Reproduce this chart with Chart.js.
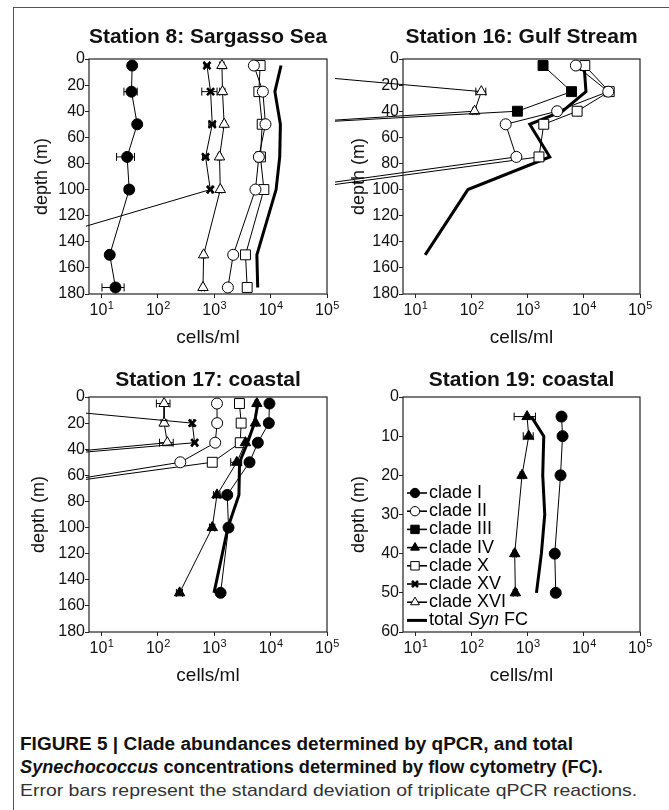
<!DOCTYPE html>
<html>
<head>
<meta charset="utf-8">
<script src="https://cdn.jsdelivr.net/npm/chart.js@4.4.1/dist/chart.umd.min.js"></script>
<style>
  html, body { margin: 0; padding: 0; background: #fff; }
  body { width: 669px; height: 810px; position: relative; overflow: hidden; font-family: 'Liberation Sans', Arial, sans-serif; }
  .frame { position: absolute; left: 13px; top: 7px; width: 700px; height: 850px; border-top: 1.5px solid #555; border-left: 1.5px solid #555; }
  canvas { position: absolute; }
  #caption { position: absolute; left: 20px; top: 733px; color: #111; white-space: nowrap; }
  #caption .ln { display: block; height: 23px; line-height: 23px; transform-origin: 0 50%; }
  #caption .ln span { display: inline-block; }
  #caption .b { font-weight: bold; font-size: 18px; font-family: 'Liberation Sans Narrow', 'Arial Narrow', 'Liberation Sans', Arial, sans-serif; }
  #caption .r { font-size: 17px; color: #333; font-family: 'Liberation Sans Narrow', 'Arial Narrow', 'Liberation Sans', Arial, sans-serif; }
</style>
</head>
<body>
<div class="frame"></div>
<canvas id="c8" width="329" height="347" style="left:14px;top:8px"></canvas>
<canvas id="c16" width="322" height="347" style="left:335px;top:8px"></canvas>
<canvas id="c17" width="329" height="344" style="left:14px;top:346px"></canvas>
<canvas id="c19" width="322" height="344" style="left:335px;top:346px"></canvas>
<div id="caption">
  <div class="ln b" data-w="553"><span>FIGURE 5 | Clade abundances determined by qPCR, and total</span></div>
  <div class="ln b" data-w="583"><span><i>Synechococcus</i> concentrations determined by flow cytometry (FC).</span></div>
  <div class="ln r" data-w="617"><span>Error bars represent the standard deviation of triplicate qPCR reactions.</span></div>
</div>
<script>
// ---- data (cells/ml by depth in m) ----
const xTickValues = [10, 100, 1000, 10000, 100000];
const xTickBase = '10';
const xTickExp = ['1', '2', '3', '4', '5'];

// Station 8: Sargasso Sea
const s8Depth = [5, 25, 50, 75, 100, 150, 175];
const s8CladeI = [35, 34, 43, 28.5, 31, 14, 17.7];
const s8CladeIErr = [3, 9, 3, 10, 5, 1.5, 7.5];
const s8CladeII = [5050, 7280, 8100, 6180, 5380, 2170, 1745];
const s8CladeX = [6520, 6180, 7080, 6600, 7590, 3580, 3840];
const s8CladeXV = [743, 861, 922, 701, 851, 0.1, null];
const s8CladeXVErr = [80, 260, 120, 80, 60, 0, 0];
const s8CladeXVI = [1370, 1400, 1500, 1240, 1280, 648, 631];
const s8CladeXVIErr = [120, 150, 100, 80, 80, 40, 40];
const s8FC = [15300, 11900, 14900, 14500, 12500, 5700, 5900];

// Station 16: Gulf Stream
const s16Depth = [5, 25, 40, 50, 75, 100, 150];
const s16CladeII = [7200, 27200, 3340, 405, 628, 0.04, null];
const s16CladeIIErr = [500, 2500, 300, 40, 50, 0, 0];
const s16CladeIII = [1875, 6030, 655, 0.037, null, null, null];
const s16CladeIIIErr = [150, 900, 60, 0, 0, 0, 0];
const s16CladeX = [10400, 28300, 7590, 1930, 1585, 0.08, null];
const s16CladeXErr = [600, 3000, 600, 150, 100, 0, 0];
const s16CladeXVI = [0.001, 149, 113, 0.025, null, null, null];
const s16CladeXVIErr = [0, 30, 8, 0, 0, 0, 0];
const s16FC = [10100, 10900, 4170, 1087, 2470, 86, 14.9];

// Station 17: coastal
const s17Depth = [5, 20, 35, 50, 75, 100, 150];
const s17CladeI = [9530, 9290, 5930, 4220, 1700, 1790, 1295];
const s17CladeIErr = [400, 300, 300, 250, 120, 150, 80];
const s17CladeII = [1117, 1125, 1040, 250, 0.065, null, null];
const s17CladeIV = [5700, 5380, 3580, 2510, 1117, 922, 243];
const s17CladeIVErr = [400, 300, 200, 550, 150, 100, 30];
const s17CladeX = [2800, 3000, 2890, 922, 0.05, null, null];
const s17CladeXErr = [200, 150, 150, 80, 0, 0, 0];
const s17CladeXV = [0.08, 407, 449, 0.04, null, null, null];
const s17CladeXVErr = [0, 20, 40, 0, 0, 0, 0];
const s17CladeXVI = [129, 129, 147, 0.03, null, null, null];
const s17CladeXVIErr = [35, 15, 40, 0, 0, 0, 0];
const s17FC = [5930, 5160, 3890, 2810, 2740, 1745, 990];

// Station 19: coastal
const s19Depth = [5, 10, 20, 40, 50];
const s19CladeI = [4000, 4170, 3840, 3030, 3160];
const s19CladeIErr = [200, 150, 150, 150, 250];
const s19CladeIV = [973, 1042, 791, 586, 602];
const s19CladeIVErr = [400, 210, 60, 40, 50];
const s19FCDepth = [5, 10, 20, 30, 40, 50];
const s19FC = [1160, 1930, 1850, 2010, 1750, 1430];

// ---- styles ----
const FONT = "'Liberation Sans', Arial, sans-serif";
const STYLE = {
  'clade I':   { pointStyle: 'circle',   radius: 5.5, fill: '#000', bw: 1, line: 1 },
  'clade II':  { pointStyle: 'circle',   radius: 5.5, fill: '#fff', bw: 1, line: 1 },
  'clade III': { pointStyle: 'rect',     radius: 7,   fill: '#000', bw: 1, line: 1 },
  'clade IV':  { pointStyle: 'triangle', radius: 6,   fill: '#000', bw: 1, line: 1 },
  'clade X':   { pointStyle: 'rect',     radius: 7,   fill: '#fff', bw: 1, line: 1 },
  'clade XV':  { pointStyle: 'crossRot', radius: 5,   fill: '#000', bw: 2.6, line: 1 },
  'clade XVI': { pointStyle: 'triangle', radius: 6,   fill: '#fff', bw: 1, line: 1 },
  'total FC':  { pointStyle: false,      radius: 0,   fill: '#000', bw: 0, line: 3 }
};

function series(name, depths, values, errs) { return { name, depths, values, errs }; }

function buildDatasets(list, clip) {
  return list.map(s => {
    const st = STYLE[s.name];
    const pts = [];
    s.values.forEach((v, i) => { if (v !== null) pts.push({ x: v, y: s.depths[i] }); });
    return {
      label: s.name, data: pts, errs: s.errs || null, showLine: true,
      borderColor: '#000', borderWidth: st.line, backgroundColor: st.fill,
      pointStyle: st.pointStyle, pointRadius: st.radius, pointBackgroundColor: st.fill,
      pointBorderColor: '#000', pointBorderWidth: st.bw, tension: 0, clip
    };
  });
}

// error bars drawn through the scales
const errorBars = {
  id: 'errorBars',
  beforeDatasetsDraw(chart) {
    const { ctx, scales: { x, y } } = chart;
    ctx.save();
    ctx.strokeStyle = '#000';
    ctx.lineWidth = 1;
    chart.data.datasets.forEach(ds => {
      if (!ds.errs) return;
      ds.data.forEach((p, i) => {
        const e = ds.errs[i];
        if (!e) return;
        const py = y.getPixelForValue(p.y);
        const x1 = x.getPixelForValue(Math.max(p.x - e, 1));
        const x2 = x.getPixelForValue(p.x + e);
        ctx.beginPath();
        ctx.moveTo(x1, py); ctx.lineTo(x2, py);
        ctx.moveTo(x1, py - 4); ctx.lineTo(x1, py + 4);
        ctx.moveTo(x2, py - 4); ctx.lineTo(x2, py + 4);
        ctx.stroke();
      });
    });
    ctx.restore();
  }
};

// box round the plot area, and 10^n tick labels with raised exponents
const plotFrame = {
  id: 'plotFrame',
  afterDraw(chart) {
    const { ctx, chartArea: a, scales: { x } } = chart;
    ctx.save();
    ctx.strokeStyle = '#222';
    ctx.lineWidth = 1.2;
    ctx.strokeRect(a.left, a.top, a.right - a.left, a.bottom - a.top);
    ctx.fillStyle = '#111';
    ctx.textBaseline = 'alphabetic';
    ctx.textAlign = 'left';
    const base = a.bottom + 21;
    xTickValues.forEach((v, i) => {
      const px = x.getPixelForValue(v);
      ctx.font = '16px ' + FONT;
      const wb = ctx.measureText(xTickBase).width;
      ctx.font = '11px ' + FONT;
      const we = ctx.measureText(xTickExp[i]).width;
      const left = px - (wb + we) / 2;
      ctx.font = '16px ' + FONT;
      ctx.fillText(xTickBase, left, base);
      ctx.font = '11px ' + FONT;
      ctx.fillText(xTickExp[i], left + wb + 0.5, base - 6.5);
    });
    ctx.restore();
  }
};

// legend inside the Station 19 plot
const LEGEND_ITEMS = ['clade I', 'clade II', 'clade III', 'clade IV', 'clade X', 'clade XV', 'clade XVI', 'total FC'];
const insideLegend = {
  id: 'insideLegend',
  afterDraw(chart, args, opts) {
    if (!opts.show) return;
    const { ctx, chartArea: a } = chart;
    ctx.save();
    ctx.font = '18px ' + FONT;
    ctx.textBaseline = 'middle';
    LEGEND_ITEMS.forEach((name, i) => {
      const st = STYLE[name];
      const y = a.top + 96 + i * 18.2;
      const x0 = a.left + 4, x1 = a.left + 24, xm = a.left + 12;
      ctx.strokeStyle = '#000';
      ctx.lineWidth = st.line === 3 ? 3 : 1.6;
      ctx.beginPath(); ctx.moveTo(x0, y); ctx.lineTo(x1, y); ctx.stroke();
      if (st.pointStyle) {
        ctx.fillStyle = st.fill;
        ctx.lineWidth = st.bw;
        Chart.helpers.drawPoint(ctx, { pointStyle: st.pointStyle, radius: st.radius * 0.85, rotation: 0, borderWidth: st.bw }, xm, y);
      }
      ctx.fillStyle = '#000';
      let tx = a.left + 26;
      if (name === 'total FC') {
        ctx.fillText('total ', tx, y); tx += ctx.measureText('total ').width;
        ctx.font = 'italic 18px ' + FONT;
        ctx.fillText('Syn', tx, y); tx += ctx.measureText('Syn').width;
        ctx.font = '18px ' + FONT;
        ctx.fillText(' FC', tx, y);
      } else {
        ctx.fillText(name, tx, y);
      }
    });
    ctx.restore();
  }
};

function makeChart(id, p) {
  new Chart(document.getElementById(id), {
    type: 'scatter',
    data: { datasets: buildDatasets(p.series, p.clip) },
    plugins: [errorBars, plotFrame, insideLegend],
    options: {
      responsive: false, animation: false,
      layout: { padding: { left: 0, right: p.padRight, top: 0, bottom: 0 } },
      plugins: {
        legend: { display: false },
        tooltip: { enabled: false },
        title: {
          display: true, text: p.title, fullSize: false, color: '#111',
          font: { family: FONT, size: 21, weight: 'bold' },
          padding: { top: p.titlePad[0], bottom: p.titlePad[1] }
        },
        insideLegend: { show: !!p.legend }
      },
      scales: {
        x: {
          type: 'logarithmic', min: 6, max: 100000,
          afterBuildTicks: s => { s.ticks = xTickValues.map(v => ({ value: v, major: true })); },
          afterFit: s => { s.height = p.xHeight; },
          ticks: { autoSkip: false, maxRotation: 0, padding: 3, font: { family: FONT, size: 16 },
                   callback: () => '' },
          grid: { display: true, drawOnChartArea: false, drawTicks: true, tickLength: 4, color: '#222' },
          border: { display: false },
          title: { display: true, text: 'cells/ml', color: '#111', font: { family: FONT, size: 19 },
                   padding: { top: 0, bottom: p.xTitlePad } }
        },
        y: {
          type: 'linear', reverse: true, min: 0, max: p.yMax,
          afterFit: s => { s.width = p.yWidth; },
          ticks: { stepSize: p.yStep, padding: 0, color: '#111', font: { family: FONT, size: 16 } },
          grid: { display: true, drawOnChartArea: false, drawTicks: true, tickLength: 4, color: '#222' },
          border: { display: false },
          title: { display: true, text: 'depth (m)', color: '#111', font: { family: FONT, size: 18 },
                   padding: { top: p.yTitlePad, bottom: 0 } }
        }
      }
    }
  });
}

const thinClip = { left: 3, right: 0, top: 0, bottom: 0 };

makeChart('c8', {
  title: 'Station 8: Sargasso Sea', yMax: 180, yStep: 20, clip: thinClip,
  padRight: 16, yWidth: 75, xHeight: 61, titlePad: [16.4, 9.4], yTitlePad: 17.2, xTitlePad: 5.6,
  series: [
    series('clade I', s8Depth, s8CladeI, s8CladeIErr),
    series('clade II', s8Depth, s8CladeII),
    series('clade X', s8Depth, s8CladeX),
    series('clade XV', s8Depth, s8CladeXV, s8CladeXVErr),
    series('clade XVI', s8Depth, s8CladeXVI, s8CladeXVIErr),
    series('total FC', s8Depth, s8FC)
  ]
});

makeChart('c16', {
  title: 'Station 16: Gulf Stream', yMax: 180, yStep: 20, clip: false,
  padRight: 17, yWidth: 68, xHeight: 61, titlePad: [16.4, 9.4], yTitlePad: 13.2, xTitlePad: 5.6,
  series: [
    series('clade II', s16Depth, s16CladeII, s16CladeIIErr),
    series('clade III', s16Depth, s16CladeIII, s16CladeIIIErr),
    series('clade X', s16Depth, s16CladeX, s16CladeXErr),
    series('clade XVI', s16Depth, s16CladeXVI, s16CladeXVIErr),
    series('total FC', s16Depth, s16FC)
  ]
});

makeChart('c17', {
  title: 'Station 17: coastal', yMax: 180, yStep: 20, clip: thinClip,
  padRight: 16, yWidth: 75, xHeight: 58, titlePad: [21.4, 4.4], yTitlePad: 14.7, xTitlePad: 2.6,
  series: [
    series('clade I', s17Depth, s17CladeI, s17CladeIErr),
    series('clade II', s17Depth, s17CladeII),
    series('clade IV', s17Depth, s17CladeIV, s17CladeIVErr),
    series('clade X', s17Depth, s17CladeX, s17CladeXErr),
    series('clade XV', s17Depth, s17CladeXV, s17CladeXVErr),
    series('clade XVI', s17Depth, s17CladeXVI, s17CladeXVIErr),
    series('total FC', s17Depth, s17FC)
  ]
});

makeChart('c19', {
  title: 'Station 19: coastal', yMax: 60, yStep: 10, clip: thinClip, legend: true,
  padRight: 17, yWidth: 68, xHeight: 58, titlePad: [21.4, 4.4], yTitlePad: 13.2, xTitlePad: 2.6,
  series: [
    series('clade I', s19Depth, s19CladeI, s19CladeIErr),
    series('clade IV', s19Depth, s19CladeIV, s19CladeIVErr),
    series('total FC', s19FCDepth, s19FC)
  ]
});

// fit caption lines to their printed widths
document.querySelectorAll('#caption .ln').forEach(el => {
  const span = el.querySelector('span');
  const k = Number(el.dataset.w) / span.getBoundingClientRect().width;
  el.style.transform = 'scaleX(' + k.toFixed(3) + ')';
});
</script>
</body>
</html>
